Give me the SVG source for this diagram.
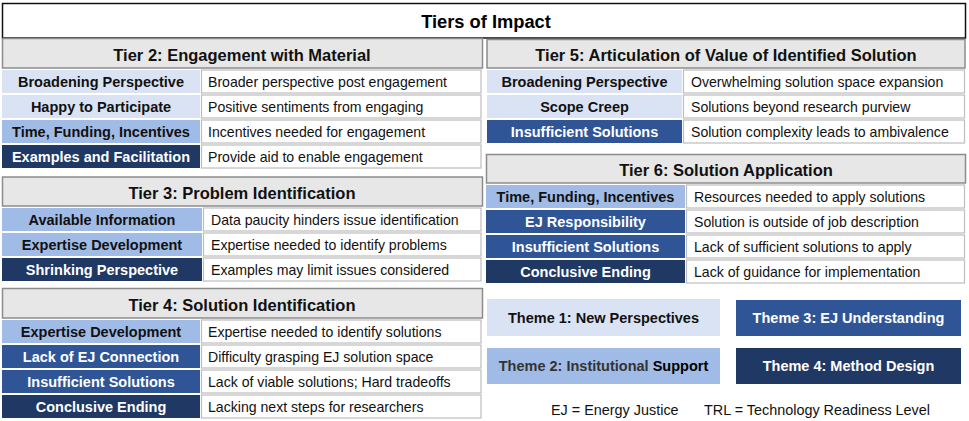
<svg xmlns="http://www.w3.org/2000/svg" width="969" height="421" viewBox="0 0 969 421">
<style>
text{font-family:"Liberation Sans",Arial,sans-serif}
.title{font-size:18.3px;font-weight:bold;fill:#000;text-anchor:middle}
.hd{fill:#e7e7e7;stroke:#8c8c8c;stroke-width:1.5}
.ht{font-size:16.5px;font-weight:bold;fill:#111;text-anchor:middle}
.lt{font-size:14.5px;font-weight:bold;text-anchor:middle;fill:#111}
.lw{fill:#fff}
.dc{fill:#fff;stroke:#bdbdbd;stroke-width:1.2}
.dt{font-size:14.1px;fill:#111}
.c1{fill:#dae3f3}
.c2{fill:#a0bbe5}
.c3{fill:#2f5597}
.c4{fill:#1f3864}
.th{font-size:14.5px;font-weight:bold;text-anchor:middle}
.ft{font-size:14.4px;fill:#111}
</style>
<g id="title">
<rect x="2.5" y="3.5" width="963" height="34.5" fill="#fff" stroke="#111" stroke-width="1.5"/>
<text class="title" x="486" y="28">Tiers of Impact</text>
</g>
<g id="tier2">
<rect class="hd" x="2.5" y="38.5" width="480" height="29.5"/>
<text class="ht" x="242" y="61">Tier 2: Engagement with Material</text>
<rect class="c1" x="2" y="70" width="198" height="23"/><rect class="dc" x="201.5" y="70" width="279.5" height="23"/>
<text class="lt" x="101" y="87">Broadening Perspective</text><text class="dt" x="208" y="87">Broader perspective post engagement</text>
<rect class="c1" x="2" y="95" width="198" height="23"/><rect class="dc" x="201.5" y="95" width="279.5" height="23"/>
<text class="lt" x="101" y="112">Happy to Participate</text><text class="dt" x="208" y="112">Positive sentiments from engaging</text>
<rect class="c2" x="2" y="120" width="198" height="23"/><rect class="dc" x="201.5" y="120" width="279.5" height="23"/>
<text class="lt" x="101" y="137">Time, Funding, Incentives</text><text class="dt" x="208" y="137">Incentives needed for engagement</text>
<rect class="c4" x="2" y="145" width="198" height="23"/><rect class="dc" x="201.5" y="145" width="279.5" height="23"/>
<text class="lt lw" x="101" y="162">Examples and Facilitation</text><text class="dt" x="208" y="162">Provide aid to enable engagement</text>
</g>
<g id="tier3">
<rect class="hd" x="2.5" y="177" width="480" height="29"/>
<text class="ht" x="242" y="199">Tier 3: Problem Identification</text>
<rect class="c2" x="2" y="208" width="200" height="23"/><rect class="dc" x="203.5" y="208" width="277.5" height="23"/>
<text class="lt" x="102" y="225">Available Information</text><text class="dt" x="211" y="225">Data paucity hinders issue identification</text>
<rect class="c2" x="2" y="233" width="200" height="23"/><rect class="dc" x="203.5" y="233" width="277.5" height="23"/>
<text class="lt" x="102" y="250">Expertise Development</text><text class="dt" x="211" y="250">Expertise needed to identify problems</text>
<rect class="c4" x="2" y="258" width="200" height="23"/><rect class="dc" x="203.5" y="258" width="277.5" height="23"/>
<text class="lt lw" x="102" y="275">Shrinking Perspective</text><text class="dt" x="211" y="275">Examples may limit issues considered</text>
</g>
<g id="tier4">
<rect class="hd" x="2.5" y="288.5" width="480" height="29.5"/>
<text class="ht" x="242" y="311">Tier 4: Solution Identification</text>
<rect class="c2" x="2" y="320" width="198" height="23"/><rect class="dc" x="201.5" y="320" width="279.5" height="23"/>
<text class="lt" x="101" y="337">Expertise Development</text><text class="dt" x="208" y="337">Expertise needed to identify solutions</text>
<rect class="c3" x="2" y="345" width="198" height="23"/><rect class="dc" x="201.5" y="345" width="279.5" height="23"/>
<text class="lt lw" x="101" y="362">Lack of EJ Connection</text><text class="dt" x="208" y="362">Difficulty grasping EJ solution space</text>
<rect class="c3" x="2" y="370" width="198" height="23"/><rect class="dc" x="201.5" y="370" width="279.5" height="23"/>
<text class="lt lw" x="101" y="387">Insufficient Solutions</text><text class="dt" x="208" y="387">Lack of viable solutions; Hard tradeoffs</text>
<rect class="c4" x="2" y="395" width="198" height="23"/><rect class="dc" x="201.5" y="395" width="279.5" height="23"/>
<text class="lt lw" x="101" y="412">Conclusive Ending</text><text class="dt" x="208" y="412">Lacking next steps for researchers</text>
</g>
<g id="tier5">
<rect class="hd" x="487" y="39.5" width="478" height="28.5"/>
<text class="ht" x="726" y="61">Tier 5: Articulation of Value of Identified Solution</text>
<rect class="c1" x="487" y="70" width="195" height="23"/><rect class="dc" x="683.5" y="70" width="281" height="23"/>
<text class="lt" x="584.5" y="87">Broadening Perspective</text><text class="dt" x="691" y="87">Overwhelming solution space expansion</text>
<rect class="c1" x="487" y="95" width="195" height="23"/><rect class="dc" x="683.5" y="95" width="281" height="23"/>
<text class="lt" x="584.5" y="112">Scope Creep</text><text class="dt" x="691" y="112">Solutions beyond research purview</text>
<rect class="c3" x="487" y="120" width="195" height="23"/><rect class="dc" x="683.5" y="120" width="281" height="23"/>
<text class="lt lw" x="584.5" y="137">Insufficient Solutions</text><text class="dt" x="691" y="137">Solution complexity leads to ambivalence</text>
</g>
<g id="tier6">
<rect class="hd" x="486.5" y="154.5" width="479" height="28.5"/>
<text class="ht" x="726" y="176">Tier 6: Solution Application</text>
<rect class="c2" x="486" y="185" width="199" height="23"/><rect class="dc" x="686.5" y="185" width="278" height="23"/>
<text class="lt" x="585.5" y="202">Time, Funding, Incentives</text><text class="dt" x="694" y="202">Resources needed to apply solutions</text>
<rect class="c3" x="486" y="210" width="199" height="23"/><rect class="dc" x="686.5" y="210" width="278" height="23"/>
<text class="lt lw" x="585.5" y="227">EJ Responsibility</text><text class="dt" x="694" y="227">Solution is outside of job description</text>
<rect class="c3" x="486" y="235" width="199" height="23"/><rect class="dc" x="686.5" y="235" width="278" height="23"/>
<text class="lt lw" x="585.5" y="252">Insufficient Solutions</text><text class="dt" x="694" y="252">Lack of sufficient solutions to apply</text>
<rect class="c4" x="486" y="260" width="199" height="23"/><rect class="dc" x="686.5" y="260" width="278" height="23"/>
<text class="lt lw" x="585.5" y="277">Conclusive Ending</text><text class="dt" x="694" y="277">Lack of guidance for implementation</text>
</g>
<g id="legend">
<rect class="c1" x="487" y="299" width="233" height="37"/>
<text class="th" x="603.5" y="323" fill="#111">Theme 1: New Perspectives</text>
<rect class="c3" x="736" y="300" width="225" height="36"/>
<text class="th" x="848.5" y="323" fill="#fff">Theme 3: EJ Understanding</text>
<rect class="c2" x="487" y="348" width="233" height="36"/>
<text class="th" x="603.5" y="371" fill="#333">Theme 2: Institutional <tspan fill="#000">Support</tspan></text>
<rect class="c4" x="736" y="348" width="225" height="36"/>
<text class="th" x="848.5" y="371" fill="#fff">Theme 4: Method Design</text>
<text class="ft" x="551" y="415">EJ = Energy Justice</text>
<text class="ft" x="704" y="415">TRL = Technology Readiness Level</text>
</g>
<g id="connectors"/>
</svg>
